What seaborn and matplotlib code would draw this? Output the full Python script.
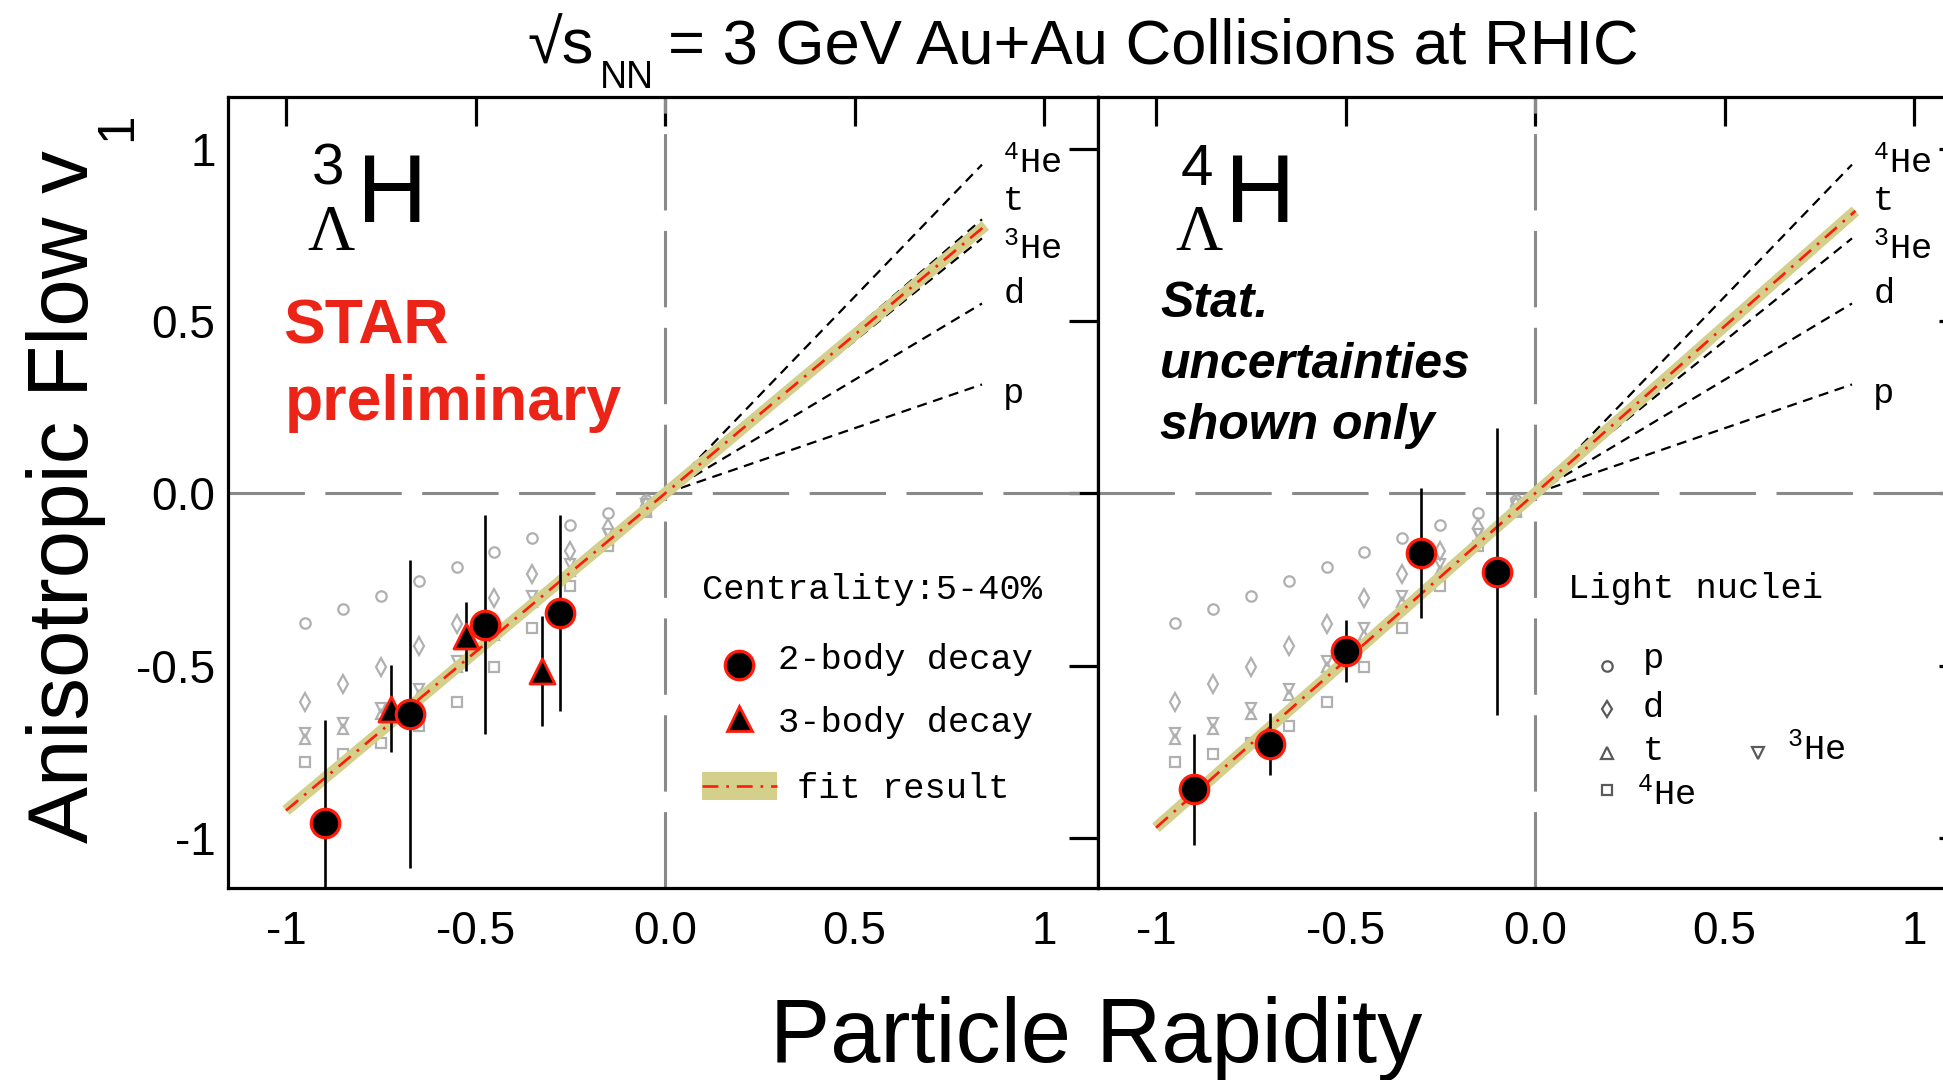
import numpy as np
import pandas as pd
import matplotlib
matplotlib.use("Agg")
import matplotlib.pyplot as plt
import seaborn as sns
from matplotlib.patches import Rectangle

# ---------------- data ----------------
# light nuclei v1 versus rapidity (3 GeV Au+Au)
ln_rap = [-0.95, -0.85, -0.75, -0.65, -0.55, -0.45, -0.35, -0.25, -0.15, -0.05]
ln_p = [-0.376, -0.335, -0.297, -0.255, -0.214, -0.171, -0.130, -0.091, -0.056, -0.020]
ln_d = [-0.604, -0.553, -0.503, -0.443, -0.378, -0.305, -0.234, -0.167, -0.100, -0.036]
ln_t = [-0.713, -0.683, -0.641, -0.585, -0.505, -0.410, -0.316, -0.224, -0.135, -0.050]
ln_he3 = [-0.695, -0.665, -0.623, -0.567, -0.487, -0.392, -0.298, -0.206, -0.117, -0.032]
ln_he4 = [-0.779, -0.756, -0.725, -0.675, -0.604, -0.503, -0.391, -0.269, -0.153, -0.055]

# linear-scaling lines of the light nuclei (slope dv1/dy)
scale_labels = ["p", "d", "$^{\\mathregular{3}}$He", "t", "$^{\\mathregular{4}}$He"]
scale_slopes = [0.378, 0.659, 0.885, 0.951, 1.141]
scale_range = [0.0, 0.836]

# 3-Lambda-H
h3_2b_rap = [-0.897, -0.673, -0.476, -0.276]
h3_2b_v1 = [-0.957, -0.639, -0.381, -0.347]
h3_2b_err = [0.300, 0.447, 0.317, 0.285]
h3_3b_rap = [-0.723, -0.524, -0.326]
h3_3b_v1 = [-0.625, -0.415, -0.515]
h3_3b_err = [0.126, 0.101, 0.160]
h3_fit_slope = 0.92

# 4-Lambda-H
h4_rap = [-0.899, -0.700, -0.500, -0.300, -0.100]
h4_v1 = [-0.859, -0.728, -0.458, -0.173, -0.227]
h4_err = [0.161, 0.090, 0.090, 0.190, 0.417]
h4_fit_slope = 0.97

fit_range = [-1.0, 0.845]

xtick_vals = [-1, -0.5, 0, 0.5, 1]
xtick_labels = ["-1", "-0.5", "0.0", "0.5", "1"]
ytick_vals = [-1, -0.5, 0, 0.5, 1]
ytick_labels = ["-1", "-0.5", "0.0", "0.5", "1"]

# ---------------- style ----------------
sns.set_style("white")
SANS = ["Liberation Sans", "DejaVu Sans"]
MONO = ["Liberation Mono", "DejaVu Sans Mono"]
SERIF = ["Liberation Serif", "DejaVu Serif"]
plt.rcParams.update({
    "font.family": SANS,
    "mathtext.default": "regular",
    "text.color": "black",
    "axes.labelcolor": "black",
    "xtick.color": "black",
    "ytick.color": "black",
})

W, H = 1943, 1080
fig = plt.figure(figsize=(W / 100, H / 100), dpi=100)
fig.patch.set_facecolor("white")

ax_l, ax_b, ax_w, ax_h = 228, 888, 870, 791
ax1 = fig.add_axes([ax_l / W, 1 - ax_b / H, ax_w / W, ax_h / H])
ax2 = fig.add_axes([(ax_l + ax_w) / W, 1 - ax_b / H, ax_w / W, ax_h / H])

GRAY_PT = "#b0b0b0"
GRAY_LEG = "#5a5a5a"
KHAKI = "#d4cf8b"
RED = "#ff1a0a"
STAR_RED = "#ec2417"

mono_fs = 25.5


def draw_panel(ax, show_ylabels):
    ax.set_xlim(-1.153, 1.142)
    ax.set_ylim(-1.145, 1.150)
    for s in ax.spines.values():
        s.set_linewidth(2.3)
        s.set_color("black")
    ax.set_xticks(xtick_vals)
    ax.set_xticklabels(xtick_labels)
    ax.set_yticks(ytick_vals)
    ax.set_yticklabels(ytick_labels if show_ylabels else [])
    ax.tick_params(direction="in", length=21, width=2.3, top=True, right=True,
                   labelsize=33, color="black", labelcolor="black")
    ax.tick_params(axis="x", pad=16)
    ax.tick_params(axis="y", pad=9)
    if not show_ylabels:
        ax.tick_params(axis="y", labelleft=False)

    # zero reference lines
    ax.axhline(0, color="#8a8a8a", lw=2.2, dashes=(25, 6.7), zorder=1)
    ax.axvline(0, color="#8a8a8a", lw=2.2, dashes=(25, 6.7), zorder=1)

    # light nuclei
    mk = dict(ls="none", mfc="none", mec=GRAY_PT, zorder=2)
    ax.plot(ln_rap, ln_p, marker="o", ms=7.5, mew=1.6, **mk)
    ax.plot(ln_rap, ln_d, marker="d", ms=9.0, mew=1.6, **mk)
    ax.plot(ln_rap, ln_t, marker="^", ms=7.8, mew=1.6, **mk)
    ax.plot(ln_rap, ln_he3, marker="v", ms=7.8, mew=1.6, **mk)
    ax.plot(ln_rap, ln_he4, marker="s", ms=7.0, mew=1.6, **mk)

    # scaling lines
    xs = np.array(scale_range)
    for sl in scale_slopes:
        sns.lineplot(x=xs, y=sl * xs, ax=ax, color="black", lw=1.6,
                     zorder=3).lines[-1].set_dashes((4.5, 3.0))

    # labels of scaling lines
    label_pos = {"p": 0.613, "d": 0.7394, "$^{\\mathregular{3}}$He": 0.7957,
                 "t": 0.8577, "$^{\\mathregular{4}}$He": 0.904}
    for lab in scale_labels:
        ax.text(0.891, label_pos[lab], lab, transform=ax.transAxes,
                family=MONO, fontsize=mono_fs, va="baseline", ha="left")


def draw_fit(ax, slope):
    xf = np.array(fit_range)
    sns.lineplot(x=xf, y=slope * xf, ax=ax, color=KHAKI, lw=8.2,
                 solid_capstyle="butt", zorder=4)
    sns.lineplot(x=xf, y=slope * xf, ax=ax, color=RED, lw=1.9, zorder=5)
    ax.lines[-1].set_dashes((6, 3, 1, 3))


draw_panel(ax1, True)
draw_panel(ax2, False)
draw_fit(ax1, h3_fit_slope)
draw_fit(ax2, h4_fit_slope)

# ---- 3LH data ----
ax1.errorbar(h3_2b_rap, h3_2b_v1, yerr=h3_2b_err, fmt="none", ecolor="black",
             elinewidth=1.9, capsize=0, zorder=6)
ax1.errorbar(h3_3b_rap, h3_3b_v1, yerr=h3_3b_err, fmt="none", ecolor="black",
             elinewidth=1.9, capsize=0, zorder=6)
sns.scatterplot(x=h3_2b_rap, y=h3_2b_v1, ax=ax1, marker="o", s=20.5 ** 2,
                color="black", edgecolor=RED, linewidth=2.3, zorder=8)
sns.scatterplot(x=h3_3b_rap, y=h3_3b_v1, ax=ax1, marker="^", s=18 ** 2,
                color="black", edgecolor=RED, linewidth=2.0, zorder=7)

# ---- 4LH data ----
ax2.errorbar(h4_rap, h4_v1, yerr=h4_err, fmt="none", ecolor="black",
             elinewidth=1.9, capsize=0, zorder=6)
sns.scatterplot(x=h4_rap, y=h4_v1, ax=ax2, marker="o", s=20.5 ** 2,
                color="black", edgecolor=RED, linewidth=2.3, zorder=8)


# ---- hypernucleus symbols ----
def nucleus_symbol(ax, mass, x0):
    ax.text(x0 + 0.006, 0.8888, mass, transform=ax.transAxes, fontsize=42,
            family=SANS, va="baseline", ha="left")
    ax.text(x0, 0.8066, "\u039b", transform=ax.transAxes, fontsize=47,
            family=SERIF, va="baseline", ha="left")
    ax.text(x0 + 0.0575, 0.842, "H", transform=ax.transAxes, fontsize=70,
            family=SANS, va="baseline", ha="left")


nucleus_symbol(ax1, "3", 0.0908)
nucleus_symbol(ax2, "4", 0.0885)

ax1.text(0.0632, 0.689, "STAR", transform=ax1.transAxes, fontsize=45,
         fontweight="bold", color=STAR_RED, va="baseline", ha="left")
ax1.text(0.0655, 0.5917, "preliminary", transform=ax1.transAxes, fontsize=45,
         fontweight="bold", color=STAR_RED, va="baseline", ha="left")

for txt, yb in zip(["Stat.", "uncertainties", "shown only"],
                   [0.7219, 0.6448, 0.5676]):
    ax2.text(0.0713, yb, txt, transform=ax2.transAxes, fontsize=36,
             fontweight="bold", style="italic", va="baseline", ha="left")

# ---- left legend ----
ax1.text(0.5448, 0.3654, "Centrality:5-40%", transform=ax1.transAxes,
         family=MONO, fontsize=mono_fs, va="baseline")
ax1.plot([0.5874], [0.2819], transform=ax1.transAxes, marker="o", ms=20.5,
         mfc="black", mec=RED, mew=2.3, ls="none", clip_on=False)
ax1.text(0.6322, 0.2769, "2-body decay", transform=ax1.transAxes,
         family=MONO, fontsize=mono_fs, va="baseline")
ax1.plot([0.5874], [0.2149], transform=ax1.transAxes, marker="^", ms=18,
         mfc="black", mec=RED, mew=2.0, ls="none", clip_on=False)
ax1.text(0.6322, 0.1972, "3-body decay", transform=ax1.transAxes,
         family=MONO, fontsize=mono_fs, va="baseline")
ax1.add_patch(Rectangle((0.5448, 0.1113), 0.0862, 0.0354, transform=ax1.transAxes,
                        facecolor=KHAKI, edgecolor="none", zorder=4))
leg_line, = ax1.plot([0.5448, 0.631], [0.1290, 0.1290], transform=ax1.transAxes,
                     color=RED, lw=1.9, zorder=5)
leg_line.set_dashes((6, 3, 1, 3))
ax1.text(0.654, 0.1138, "fit result", transform=ax1.transAxes,
         family=MONO, fontsize=mono_fs, va="baseline")

# ---- right legend ----
ax2.text(0.5402, 0.3666, "Light nuclei", transform=ax2.transAxes,
         family=MONO, fontsize=mono_fs, va="baseline")
leg_mk = dict(ls="none", mfc="none", mec=GRAY_LEG, mew=1.6, transform=ax2.transAxes)
ax2.plot([0.585], [0.2807], marker="o", ms=7.5, **leg_mk)
ax2.text(0.6264, 0.2781, "p", transform=ax2.transAxes, family=MONO,
         fontsize=mono_fs, va="baseline")
ax2.plot([0.585], [0.2263], marker="d", ms=8.5, **leg_mk)
ax2.text(0.6264, 0.2162, "d", transform=ax2.transAxes, family=MONO,
         fontsize=mono_fs, va="baseline")
ax2.plot([0.585], [0.1707], marker="^", ms=8.5, **leg_mk)
ax2.text(0.6264, 0.1618, "t", transform=ax2.transAxes, family=MONO,
         fontsize=mono_fs, va="baseline")
ax2.plot([0.7586], [0.1707], marker="v", ms=8.5, **leg_mk)
ax2.text(0.792, 0.1618, "$^{\\mathregular{3}}$He", transform=ax2.transAxes,
         family=MONO, fontsize=mono_fs, va="baseline")
ax2.plot([0.585], [0.1239], marker="s", ms=7.5, **leg_mk)
ax2.text(0.6195, 0.1049, "$^{\\mathregular{4}}$He", transform=ax2.transAxes,
         family=MONO, fontsize=mono_fs, va="baseline")

# ---- figure title (sqrt(s_NN) with a deep subscript) ----
fig.text(527 / W, 1 - 64 / H, "\u221as", fontsize=45.5, ha="left",
         va="baseline", family=SANS)
fig.text(600 / W, 1 - 88 / H, "NN", fontsize=27, ha="left",
         va="baseline", family=SANS)
fig.text(668 / W, 1 - 64 / H, "= 3 GeV Au+Au Collisions at RHIC",
         fontsize=45.5, ha="left", va="baseline", family=SANS)

# ---- axis titles ----
fig.text(1096 / W, 1 - 1062 / H, "Particle Rapidity", fontsize=65,
         ha="center", va="baseline", family=SANS)
fig.text(88 / W, 1 - 497 / H, "Anisotropic Flow v", fontsize=61.5,
         rotation=90, rotation_mode="anchor", ha="center", va="baseline",
         family=SANS)
fig.text(131 / W, 1 - 127 / H, "1", fontsize=37, rotation=90,
         rotation_mode="anchor", ha="center", va="baseline", family=SANS)

fig.savefig("out.png", dpi=100)
